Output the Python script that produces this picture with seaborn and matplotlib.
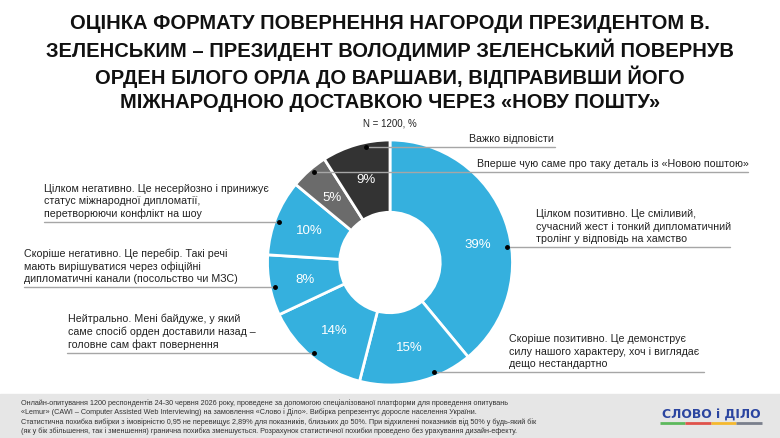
import matplotlib
matplotlib.use("Agg")
import matplotlib.pyplot as plt
import numpy as np
import seaborn as sns

# data
answers = [
    "Цілком позитивно. Це сміливий,\nсучасний жест і тонкий дипломатичний\nтролінг у відповідь на хамство",
    "Скоріше позитивно. Це демонструє\nсилу нашого характеру, хоч і виглядає\nдещо нестандартно",
    "Нейтрально. Мені байдуже, у який\nсаме спосіб орден доставили назад –\nголовне сам факт повернення",
    "Скоріше негативно. Це перебір. Такі речі\nмають вирішуватися через офіційні\nдипломатичні канали (посольство чи МЗС)",
    "Цілком негативно. Це несерйозно і принижує\nстатус міжнародної дипломатії,\nперетворюючи конфлікт на шоу",
    "Вперше чую саме про таку деталь із «Новою поштою»",
    "Важко відповісти",
]
shares = [39, 15, 14, 8, 10, 5, 9]
colors = ["#35b0de", "#35b0de", "#35b0de", "#35b0de", "#35b0de", "#6b6b6b", "#333333"]

title = ("ОЦІНКА ФОРМАТУ ПОВЕРНЕННЯ НАГОРОДИ ПРЕЗИДЕНТОМ В.\n"
         "ЗЕЛЕНСЬКИМ – ПРЕЗИДЕНТ ВОЛОДИМИР ЗЕЛЕНСЬКИЙ ПОВЕРНУВ\n"
         "ОРДЕН БІЛОГО ОРЛА ДО ВАРШАВИ, ВІДПРАВИВШИ ЙОГО\n"
         "МІЖНАРОДНОЮ ДОСТАВКОЮ ЧЕРЕЗ «НОВУ ПОШТУ»")
subtitle = "N = 1200, %"
footnote = ("Онлайн-опитування 1200 респондентів 24-30 червня 2026 року, проведене за допомогою спеціалізованої платформи для проведення опитувань\n"
            "«Lemur» (CAWI – Computer Assisted Web Interviewing) на замовлення «Слово і Діло». Вибірка репрезентує доросле населення України.\n"
            "Статистична похибка вибірки з імовірністю 0,95 не перевищує 2,89% для показників, близьких до 50%. При відхиленні показників від 50% у будь-який бік\n"
            "(як у бік збільшення, так і зменшення) гранична похибка зменшується. Розрахунок статистичної похибки проведено без урахування дизайн-ефекту.")

# label layout (pixels from top-left): text x, leader line y, far end x of line
label_x = [536, 509, 68, 24, 44, 477, 469]
line_y = [248, 373, 354, 288, 223, 173, 148]
line_end = [730, 704, 67, 24, 44, 748, 555]

sns.set_theme(style="white")
plt.rcParams["font.family"] = ["Liberation Sans", "DejaVu Sans"]

W, H = 780, 439
fig = plt.figure(figsize=(7.8, 4.39), dpi=100)
ax = fig.add_axes([0, 0, 1, 1])

cx, cy, R = 390, H - 263.5, 122.5

wedges, _, autotexts = ax.pie(
    shares, colors=colors, startangle=90, counterclock=False,
    center=(cx, cy), radius=R, autopct="%d%%", pctdistance=0.71,
    wedgeprops=dict(width=R * 0.59, edgecolor="white", linewidth=2),
    textprops=dict(color="white", fontsize=9.5))
ax.set_xlim(0, W)
ax.set_ylim(0, H)
ax.set_aspect("equal")
ax.axis("off")

# the big slice's label sits lower than its mid-angle
w0 = wedges[0]
a0 = np.deg2rad(w0.theta1 + 0.445 * (w0.theta2 - w0.theta1))
autotexts[0].set_position((cx + 0.73 * R * np.cos(a0), cy + 0.73 * R * np.sin(a0)))

# footer band
ax.axhspan(0, H - 395, color="#e6e6e6", zorder=0)

# leader lines with dots
r_dot = 118
for w, lbl, tx, ly, le in zip(wedges, answers, label_x, line_y, line_end):
    mid = np.deg2rad((w.theta1 + w.theta2) / 2)
    dy = cy - (H - ly)
    dx = np.sqrt(r_dot ** 2 - dy ** 2) * np.sign(np.cos(mid))
    px, py = cx + dx, H - ly
    ax.plot([px, le], [py, py], color="#a6a6a6", lw=1, zorder=3)
    ax.plot(px, py, "o", color="black", ms=2.5, zorder=4)
    ax.text(tx, py + 4, lbl, ha="left", va="bottom", fontsize=7.7,
            color="#222222", linespacing=1.3)

ax.text(W / 2, H - 123, subtitle, ha="center", va="center", fontsize=7, color="#222222")
ax.text(W / 2, H - 63, title, ha="center", va="center", fontsize=14.5,
        fontweight="bold", color="#111111", linespacing=1.27)

ax.text(21, H - 417, footnote, ha="left", va="center", fontsize=5.25,
        color="#333333", linespacing=1.25,
        family=["Liberation Sans Narrow", "Liberation Sans"])

# logo
ax.text(711, H - 415.5, "СЛОВО і ДІЛО", ha="center", va="center", fontsize=8.9,
        fontweight="bold", color="#2b45a0", family=["DejaVu Sans"])
bar_colors = ["#5cb85c", "#e0524a", "#f5b82e", "#7a7f8c"]
for i, bc in enumerate(bar_colors):
    ax.plot([660 + i * 25.5, 660 + (i + 1) * 25.5], [H - 424, H - 424], color=bc, lw=2,
            solid_capstyle="butt")

fig.savefig("out.png", dpi=100)
